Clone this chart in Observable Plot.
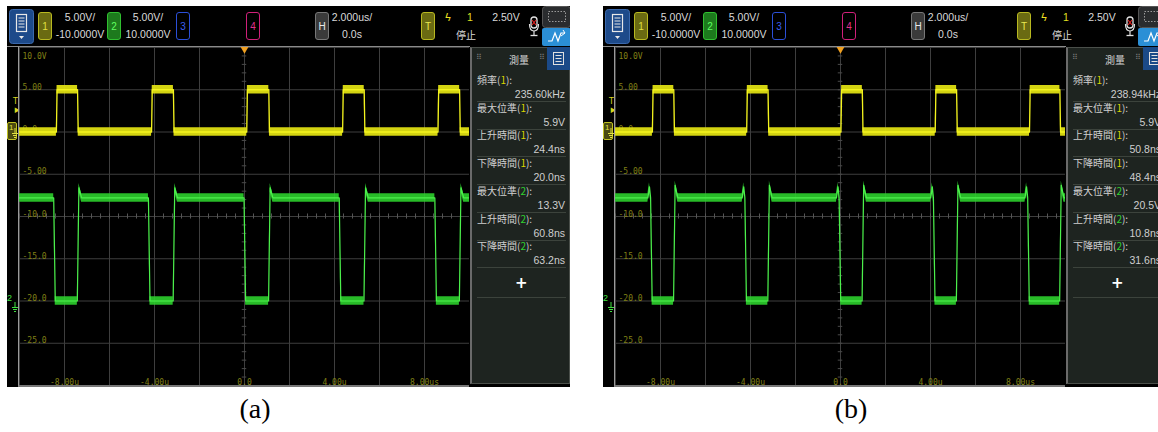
<!DOCTYPE html>
<html><head><meta charset="utf-8">
<script src="https://cdn.jsdelivr.net/npm/d3@7"></script>
<script src="https://cdn.jsdelivr.net/npm/@observablehq/plot@0.6"></script>
<style>
html,body{margin:0;padding:0;background:#fff;}
body{width:1158px;height:432px;overflow:hidden;position:relative;font-family:"Liberation Sans Narrow","Liberation Sans","Noto Sans CJK TC",sans-serif;}
.scope{position:absolute;top:6px;width:563px;height:381px;background:#000;overflow:hidden;}
.abs{position:absolute;}
.chbox{position:absolute;top:6px;width:14px;height:28px;border:1px solid;border-radius:3px;font-size:10px;display:flex;align-items:center;justify-content:center;box-sizing:border-box;}
.hdr{position:absolute;color:#dadada;font-size:10.5px;white-space:nowrap;transform:translate(-50%,-50%);line-height:12px;}
.plotwrap{position:absolute;left:11px;top:40px;width:450px;height:338px;border-top:1px solid #8a8a8a;border-left:1px solid #9a9a9a;border-bottom:2px solid #777;}
.plotwrap svg{display:block;}
.panel{position:absolute;left:463px;top:41px;width:100px;height:337px;background:#1e2420;border:1px solid #4a4f4a;border-left:2px solid #6a6a6a;box-sizing:border-box;font-family:"Liberation Sans Narrow","Liberation Sans","Noto Sans CJK TC",sans-serif;}
.mlabel{position:absolute;left:5px;color:#cfcfcf;font-size:10px;transform:translateY(-50%);white-space:nowrap;font-family:"Noto Sans CJK TC","Liberation Sans",sans-serif;}
.mval{position:absolute;right:4px;color:#cfcfcf;font-size:10.5px;transform:translateY(-50%);white-space:nowrap;}
.msep{position:absolute;left:5px;width:89px;height:1px;background:#3c433c;}
.caption{position:absolute;top:393px;font-family:"Liberation Serif","DejaVu Serif",serif;font-size:28px;color:#000;transform:translateX(-50%);}
</style></head>
<body>
<script>
// ---------- data ----------
const xGrid = [-10, -8, -6, -4, -2, 0, 2, 4, 6, 8, 10];
const yGrid = [10, 5, 0, -5, -10, -15, -20, -25, -30];
const xTicks = [-8, -4, 0, 4, 8];
const xTickLabels = ["-8.00u", "-4.00u", "0.0", "4.00u", "8.00us"];
const yTicks = [10, 5, 0, -5, -10, -15, -20, -25];
const yTickLabels = ["10.0V", "5.00", "0.0", "-5.00", "-10.0", "-15.0", "-20.0", "-25.0"];
const minorX = d3.range(-10, 10.001, 0.4);
const minorY = d3.range(-30, 10.001, 1);

const headerTexts = {ch1Scale: "5.00V/", ch1Offset: "-10.0000V", ch2Scale: "5.00V/", ch2Offset: "10.0000V",
  timeScale: "2.000us/", timeDelay: "0.0s", trigSrc: "1", trigLevel: "2.50V", runState: "停止"};

const measureLabels = ["頻率", "最大位準", "上升時間", "下降時間", "最大位準", "上升時間", "下降時間"];
const measureChannels = [1, 1, 1, 1, 2, 2, 2];
const valuesA = ["235.60kHz", "5.9V", "24.4ns", "20.0ns", "13.3V", "60.8ns", "63.2ns"];
const valuesB = ["238.94kHz", "5.9V", "50.8ns", "48.4ns", "20.5V", "10.8ns", "31.6ns"];

// channel 1 (yellow) edges, microseconds
const ch1RiseA = [-8.36, -4.13, 0.10, 4.36, 8.60];
const ch1FallA = [-7.42, -3.16, 1.08, 5.32, 9.56];
const ch1RiseB = [-8.36, -4.17, 0.02, 4.21, 8.40];
const ch1FallB = [-7.41, -3.22, 0.97, 5.16, 9.75];
// channel 2 (green) edges
const ch2FallA = [-8.48, -4.27, -0.02, 4.21, 8.46];
const ch2RiseA = [-7.43, -3.17, 1.07, 5.31, 9.55];
const ch2FallB = [-8.44, -4.25, -0.06, 4.13, 8.32];
const ch2RiseB = [-7.42, -3.23, 0.96, 5.15, 9.74];

const ch1Levels = {low: 0.0, high: 5.0, noise: 0.5};
const ch2Levels = {high: -7.8, low: -20.0, noise: 0.5};
const ch2SpikeA = {rise: -6.6, pre: null};
const ch2SpikeB = {rise: -6.3, pre: -6.5};

const captions = ["(a)", "(b)"];

// ---------- builders ----------
function ch1Points(rises, falls, L, edge) {
  const p = [{t: -10, v: L.low}];
  rises.forEach((r, i) => {
    p.push({t: r, v: L.low}, {t: r + edge, v: L.high}, {t: falls[i], v: L.high}, {t: falls[i] + edge, v: L.low});
  });
  p.push({t: 10, v: L.low});
  return p;
}
function ch2Points(falls, rises, L, edge, S) {
  const p = [{t: -10, v: L.high}];
  falls.forEach((f, i) => {
    if (S.pre != null) p.push({t: f - 0.12, v: L.high}, {t: f - 0.05, v: S.pre}, {t: f, v: L.high});
    else p.push({t: f, v: L.high});
    p.push({t: f + edge, v: L.low}, {t: rises[i], v: L.low}, {t: rises[i] + edge, v: S.rise}, {t: rises[i] + edge + 0.12, v: L.high});
  });
  p.push({t: 10, v: L.high});
  return p;
}

const menuIcon = `<svg width="25" height="35" viewBox="0 0 25 35"><rect x="0.5" y="0.5" width="24" height="34" rx="3" fill="#1d4a8a" stroke="#3b69ad"/><rect x="7.5" y="5.5" width="10" height="17" fill="none" stroke="#e8e8e8" stroke-width="1.2"/><line x1="9.5" x2="15.5" y1="9" y2="9" stroke="#e8e8e8"/><line x1="9.5" x2="15.5" y1="12" y2="12" stroke="#e8e8e8"/><line x1="9.5" x2="15.5" y1="15" y2="15" stroke="#e8e8e8"/><line x1="9.5" x2="15.5" y1="18" y2="18" stroke="#e8e8e8"/><path d="M10 27 L15 27 L12.5 30 Z" fill="#e8e8e8"/></svg>`;
const docIcon = `<svg width="23" height="23" viewBox="0 0 23 23"><rect width="23" height="23" fill="#1b4a88"/><rect x="6.5" y="5.5" width="10" height="12" fill="none" stroke="#e0e0e0"/><line x1="8.5" x2="14.5" y1="8.5" y2="8.5" stroke="#e0e0e0"/><line x1="8.5" x2="14.5" y1="11.5" y2="11.5" stroke="#e0e0e0"/><line x1="8.5" x2="14.5" y1="14.5" y2="14.5" stroke="#e0e0e0"/></svg>`;
const micIcon = `<svg width="12" height="28" viewBox="0 0 12 28"><rect x="3" y="5" width="6" height="11" rx="3" fill="none" stroke="#e0e0e0" stroke-width="1.3"/><path d="M1.5 12 Q1.5 19 6 19 Q10.5 19 10.5 12" fill="none" stroke="#e0e0e0" stroke-width="1.2"/><line x1="6" x2="6" y1="19" y2="23" stroke="#e0e0e0" stroke-width="1.2"/><line x1="2.5" x2="9.5" y1="23.5" y2="23.5" stroke="#e0e0e0" stroke-width="1.3"/><line x1="4" x2="8" y1="8" y2="13" stroke="#e02020" stroke-width="1.2"/><line x1="8" x2="4" y1="8" y2="13" stroke="#e02020" stroke-width="1.2"/></svg>`;
const rightBtns = `<svg width="29" height="40" viewBox="0 0 29 40"><rect x="0.5" y="0.5" width="28" height="21" rx="3" fill="#2a2c2e" stroke="#555"/><rect x="6.5" y="5.5" width="17" height="10" fill="none" stroke="#9a9a9a" stroke-dasharray="1.5 1.5"/><rect x="0" y="22" width="29" height="18" rx="2" fill="#2b8fd6"/><path d="M6 35 L10 35 L13 27 L16 35 L19 27 L23 27" fill="none" stroke="#fff" stroke-width="1.2"/><path d="M19 30 L23 27 M21 24 L23 27" stroke="#fff" stroke-width="1"/></svg>`;
const groundSym = (c) => `<svg width="6" height="10" viewBox="0 0 6 10"><line x1="3" x2="3" y1="0" y2="5" stroke="${c}"/><line x1="0" x2="6" y1="5.5" y2="5.5" stroke="${c}"/><line x1="1" x2="5" y1="7.5" y2="7.5" stroke="${c}"/><line x1="2" x2="4" y1="9.5" y2="9.5" stroke="${c}"/></svg>`;

function chBox(x, label, fill, border, color) {
  return `<div class="chbox" style="left:${x}px;background:${fill};border-color:${border};color:${color}">${label}</div>`;
}
function hdr(x, y, text, color) {
  return `<div class="hdr" style="left:${x}px;top:${y}px;${color ? "color:" + color : ""}">${text}</div>`;
}

function makeScope(left, values, ch1, ch2) {
  const s = document.createElement("div");
  s.className = "scope";
  s.style.left = left + "px";
  let h = "";
  h += `<div class="abs" style="left:2px;top:3px">${menuIcon}</div>`;
  h += chBox(31, "1", "#6a6a12", "#b8b820", "#e0e040");
  h += hdr(73, 11, headerTexts.ch1Scale) + hdr(73, 28, headerTexts.ch1Offset);
  h += chBox(100, "2", "#1d7a1d", "#30c030", "#60ff60");
  h += hdr(141, 11, headerTexts.ch2Scale) + hdr(141, 28, headerTexts.ch2Offset);
  h += chBox(169, "3", "transparent", "#2b4fd8", "#3b5ff0");
  h += chBox(239, "4", "transparent", "#d0207a", "#e0308a");
  h += chBox(308, "H", "#3a3a3a", "#777", "#e8e8e8");
  h += hdr(345, 11, headerTexts.timeScale) + hdr(345, 28, headerTexts.timeDelay);
  h += chBox(414, "T", "#6a6a12", "#b8b820", "#e8e850");
  h += hdr(441, 11, "ϟ", "#f0e020");
  h += hdr(463, 11, headerTexts.trigSrc, "#e0e020");
  h += hdr(499, 11, headerTexts.trigLevel);
  h += `<div class="hdr" style="left:459px;top:29px;font-family:'Noto Sans CJK TC';font-size:10px">${headerTexts.runState}</div>`;
  h += `<div class="abs" style="left:521px;top:6px">${micIcon}</div>`;
  h += `<div class="abs" style="left:535px;top:0px">${rightBtns}</div>`;
  h += `<div class="abs" style="left:0;top:40px;width:463px;height:1px;background:#8a8a8a"></div>`;
  // left markers
  h += `<div class="abs" style="left:6px;top:91px;color:#d8d820;font-size:8px;font-family:'DejaVu Sans'">T</div>`;
  h += `<div class="abs" style="left:7px;top:99px;color:#d8d820;font-size:6px">▶</div>`;
  h += `<div class="abs" style="left:0px;top:116px;width:10px;height:18px;box-sizing:border-box;border:1px solid #c0c020;background:#4a4a10;border-radius:2px;color:#e0e040;font-size:8px;line-height:9px;padding-left:1px">1<span style="position:absolute;left:4px;top:5px">${groundSym("#e0e040")}</span></div>`;
  h += `<div class="abs" style="left:0px;top:287px;color:#40e040;font-size:9px">2</div>`;
  h += `<div class="abs" style="left:5px;top:292px">${groundSym("#40e040")}</div>`;
  // plot
  h += `<div class="plotwrap"></div>`;
  // measurement panel
  let p = `<div class="abs" style="left:4px;top:5px;color:#777;font-size:8px">⠿</div>`;
  p += `<div class="abs" style="left:37px;top:4px;color:#d0d0d0;font-size:10px;font-family:'Noto Sans CJK TC'">測量</div>`;
  p += `<div class="abs" style="left:67px;top:5px;color:#777;font-size:8px">⠿</div>`;
  p += `<div class="abs" style="left:75px;top:-1px">${docIcon}</div>`;
  measureLabels.forEach((lab, i) => {
    const y = 31 + 27.7 * i;
    const c = measureChannels[i] === 1 ? "#d8d800" : "#30d030";
    p += `<div class="mlabel" style="top:${y}px">${lab}(<span style="color:${c}">${measureChannels[i]}</span>):</div>`;
    p += `<div class="mval" style="top:${y + 15}px">${values[i]}</div>`;
    p += `<div class="msep" style="top:${y + 22}px"></div>`;
  });
  p += `<div class="abs" style="left:43px;top:226px;color:#fff;font-size:15px;font-weight:bold;font-family:'DejaVu Sans'">+</div>`;
  p += `<div class="msep" style="top:249px"></div>`;
  h += `<div class="panel">${p}</div>`;
  s.innerHTML = h;
  document.body.appendChild(s);

  const lab = {fill: "#808016", fontSize: 8, fontFamily: "DejaVu Sans Mono"};
  const chart = Plot.plot({
    width: 450, height: 338, margin: 0,
    x: {domain: [-10, 10], axis: null},
    y: {domain: [-30, 10], axis: null},
    style: {background: "black"},
    marks: [
      Plot.ruleX(xGrid, {stroke: "#3e3e3e"}),
      Plot.ruleY(yGrid, {stroke: "#3e3e3e"}),
      Plot.ruleX(minorX, {y1: -10.3, y2: -9.7, stroke: "#555"}),
      Plot.ruleY(minorY, {x1: -0.1, x2: 0.1, stroke: "#4a4a4a"}),
      Plot.text(yTicks, {x: -10, y: d => d, text: (d, i) => yTickLabels[i], dx: 3, textAnchor: "start", lineAnchor: "bottom", ...lab}),
      Plot.text(xTicks, {x: d => d, y: -30, text: (d, i) => xTickLabels[i], dy: -1, lineAnchor: "bottom", textAnchor: "middle", ...lab}),
      Plot.areaY(ch2, {x: "t", y1: d => d.v - ch2Levels.noise, y2: d => d.v + ch2Levels.noise, fill: "#2ccf2c", fillOpacity: 0.9}),
      Plot.line(ch2, {x: "t", y: "v", stroke: "#4cf04c", strokeWidth: 1.2}),
      Plot.areaY(ch1, {x: "t", y1: d => d.v - ch1Levels.noise, y2: d => d.v + ch1Levels.noise, fill: "#dede12", fillOpacity: 0.95}),
      Plot.line(ch1, {x: "t", y: "v", stroke: "#f4f41e", strokeWidth: 1.3}),
      Plot.dot([0], {x: d => d, y: 10, symbol: "triangle", r: 4, fill: "#f0a020", rotate: 180})
    ]
  });
  s.querySelector(".plotwrap").appendChild(chart);
  // top label sits below the top grid line
  const first = chart.querySelector("g[aria-label='text'] text");
  if (first) first.setAttribute("dy", "11");
}

const edge1 = 0.03, edge2 = 0.07;
makeScope(7, valuesA, ch1Points(ch1RiseA, ch1FallA, ch1Levels, edge1), ch2Points(ch2FallA, ch2RiseA, ch2Levels, edge2, ch2SpikeA));
makeScope(603, valuesB, ch1Points(ch1RiseB, ch1FallB, ch1Levels, edge1), ch2Points(ch2FallB, ch2RiseB, ch2Levels, edge2, ch2SpikeB));

[[255, captions[0]], [851, captions[1]]].forEach(([x, t]) => {
  const c = document.createElement("div");
  c.className = "caption"; c.style.left = x + "px"; c.textContent = t;
  document.body.appendChild(c);
});
</script>
</body></html>
